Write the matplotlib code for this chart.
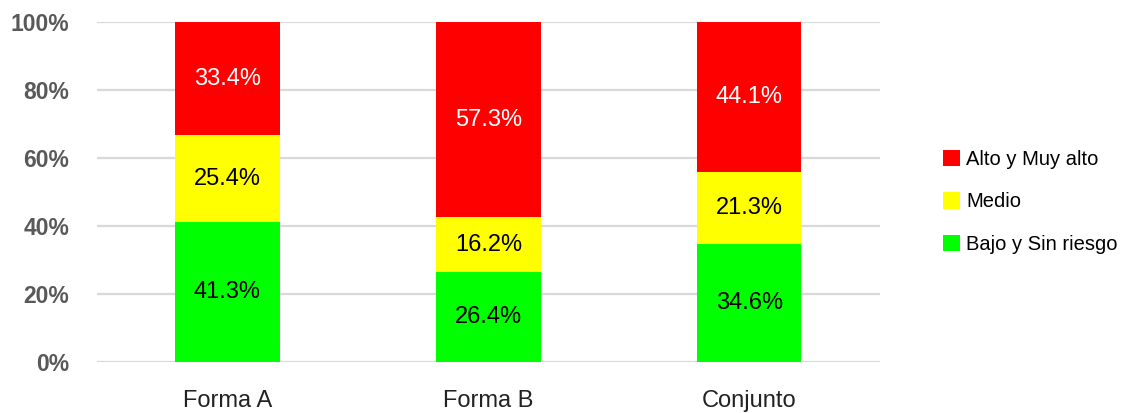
import matplotlib
matplotlib.use("Agg")
import matplotlib.pyplot as plt
import numpy as np

categories = ["Forma A", "Forma B", "Conjunto"]
bajo = [41.3, 26.4, 34.6]
medio = [25.4, 16.2, 21.3]
alto = [33.4, 57.3, 44.1]
series_names = ["Bajo y Sin riesgo", "Medio", "Alto y Muy alto"]
colors = ["#00ff00", "#ffff00", "#ff0000"]
label_colors = ["black", "black", "white"]

plt.rcParams["font.family"] = ["Liberation Sans", "DejaVu Sans"]

fig = plt.figure(figsize=(11.35, 4.13), dpi=100)
ax = fig.add_axes([0.0855, 0.1235, 0.6895, 0.8232])

vals = np.array([bajo, medio, alto])
totals = vals.sum(axis=0)
pct = vals / totals * 100  # 100% stacked
x = np.arange(len(categories))
bottom = np.zeros(len(categories))
for i in range(3):
    ax.bar(x, pct[i], bottom=bottom, width=0.4, color=colors[i],
           label=series_names[i], zorder=2)
    for xi, yb, h, v in zip(x, bottom, pct[i], vals[i]):
        ax.text(xi, yb + h / 2, f"{v:.1f}%", ha="center", va="center",
                fontsize=17, color=label_colors[i], zorder=3)
    bottom += pct[i]

ax.set_xlim(-0.5, 2.5)
ax.set_ylim(0, 100)
ax.set_yticks(range(0, 101, 20))
ax.set_yticklabels([f"{t}%" for t in range(0, 101, 20)], fontsize=16.5,
                   fontweight="bold", color="#595959")
ax.set_xticks(x)
ax.set_xticklabels(categories, fontsize=17, color="#222222")
ax.tick_params(axis="y", length=0, pad=20)
ax.tick_params(axis="x", length=0, pad=20)
ax.grid(axis="y", color="#d9d9d9", linewidth=1.6, zorder=0)
ax.set_axisbelow(True)
for s in ax.spines.values():
    s.set_visible(False)

h, l = ax.get_legend_handles_labels()
fig.legend(h[::-1], l[::-1], loc="center left", bbox_to_anchor=(0.815, 0.511),
           frameon=False, fontsize=14.5, handlelength=0.85, handleheight=0.85,
           handletextpad=0.3, labelspacing=1.15)

fig.savefig("out.png", dpi=100)
